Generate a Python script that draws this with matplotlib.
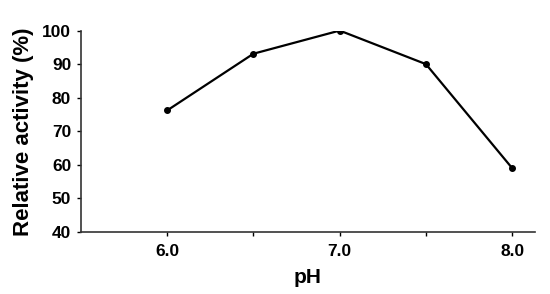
import matplotlib.pyplot as plt

ph = [6.0, 6.5, 7.0, 7.5, 8.0]
activity = [76.2, 93.1, 100.0, 90.0, 59.0]
xticks = [6.0, 7.0, 8.0]
minor_xticks = [6.5, 7.5]
yticks = [40, 50, 60, 70, 80, 90, 100]

plt.rcParams['font.family'] = ['Liberation Sans', 'DejaVu Sans']
plt.rcParams['font.weight'] = 'bold'

fig = plt.figure(figsize=(5.5, 2.94), dpi=100)
ax = fig.add_axes([0.147, 0.211, 0.826, 0.685])

ax.plot(ph, activity, color='black', lw=1.6, marker='o', ms=4)

ax.set_xlim(5.5, 8.133)
ax.set_ylim(40, 100)
ax.set_xticks(xticks)
ax.set_xticklabels(['%.1f' % v for v in xticks])
ax.set_xticks(minor_xticks, minor=True)
ax.set_yticks(yticks)

for s in ['top', 'right']:
    ax.spines[s].set_visible(False)
for s in ['left', 'bottom']:
    ax.spines[s].set_color('#333333')
    ax.spines[s].set_linewidth(1.2)

ax.tick_params(axis='y', direction='out', length=3, width=1, labelsize=12.5, pad=4)
ax.tick_params(axis='x', which='both', direction='out', length=3, width=1, labelsize=12.5, pad=6)

ax.set_xlabel('pH', fontsize=15, fontweight='bold', labelpad=6)
ax.set_ylabel('Relative activity (%)', fontsize=16, fontweight='bold', labelpad=6)

fig.savefig('out.png', dpi=100)
